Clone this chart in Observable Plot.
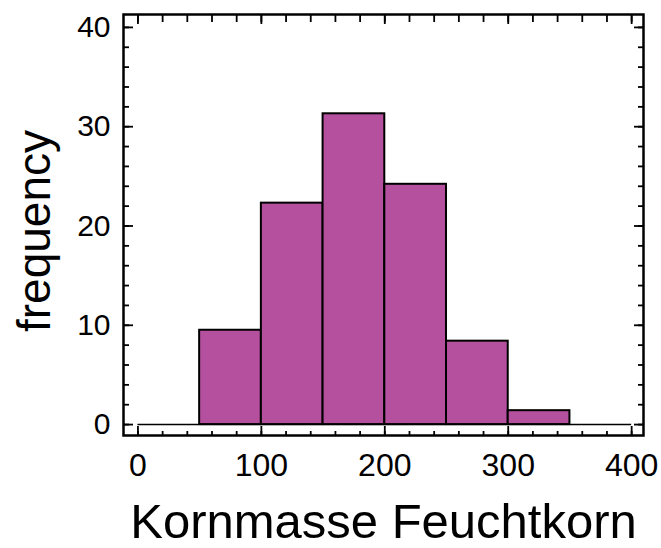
<!DOCTYPE html>
<html>
<head>
<meta charset="utf-8">
<script src="https://cdn.jsdelivr.net/npm/d3@7"></script>
<script src="https://cdn.jsdelivr.net/npm/@observablehq/plot@0.6"></script>
<style>
  html, body { margin: 0; padding: 0; background: #fff; }
  svg { font-family: "Liberation Sans", Arial, sans-serif; }
</style>
</head>
<body>
<div id="chart"></div>
<script>
const binStart = [50, 100, 150, 200, 250, 300];
const binEnd   = [100, 150, 200, 250, 300, 350];
const freq     = [9.5, 22.3, 31.3, 24.2, 8.4, 1.4];
const xMajor = [0, 100, 200, 300, 400];
const xMinor = d3.range(0, 401, 20);
const yMajor = [0, 10, 20, 30, 40];
const yMinor = d3.range(0, 41, 2);
const baseline = {from: 0, to: 400};
const xTitle = "Kornmasse Feuchtkorn";
const yTitle = "frequency";

const bins = binStart.map((s, i) => ({x1: s, x2: binEnd[i], y: freq[i]}));
const fill = "#b4509e";
const tickOpts = {tickFormat: () => "", strokeWidth: 1.8, label: null};

const plot = Plot.plot({
  width: 661,
  height: 548,
  marginLeft: 123,
  marginRight: 18,
  marginTop: 14,
  marginBottom: 113,
  style: {fontFamily: "'Liberation Sans', Arial, sans-serif", background: "#fff"},
  x: {domain: [-11.7, 409.6]},
  y: {domain: [-1.1, 41.3]},
  marks: [
    Plot.ruleY([0], {x1: baseline.from, x2: baseline.to, stroke: "#000", strokeWidth: 1.5}),
    Plot.rectY(bins, {x1: "x1", x2: "x2", y: "y", fill, stroke: "#000", strokeWidth: 2}),
    // inward ticks
    Plot.axisX(xMinor, {anchor: "bottom", tickSize: -4, ...tickOpts}),
    Plot.axisX(xMajor, {anchor: "bottom", tickSize: -9, ...tickOpts}),
    Plot.axisX(xMinor, {anchor: "top", tickSize: -7, ...tickOpts}),
    Plot.axisX(xMajor, {anchor: "top", tickSize: -9, ...tickOpts}),
    Plot.axisY(yMinor, {anchor: "left", tickSize: -6, ...tickOpts}),
    Plot.axisY(yMajor, {anchor: "left", tickSize: -10, ...tickOpts}),
    Plot.axisY(yMinor, {anchor: "right", tickSize: -6, ...tickOpts}),
    Plot.axisY(yMajor, {anchor: "right", tickSize: -10, ...tickOpts}),
    // labels
    Plot.axisX(xMajor, {anchor: "bottom", tickSize: 0, tickPadding: 18, fontSize: 32, label: null, fill: "#000"}),
    Plot.axisY(yMajor, {anchor: "left", tickSize: 0, tickPadding: 13, fontSize: 30, label: null, fill: "#000"}),
    Plot.frame({stroke: "#000", strokeWidth: 2.5}),
    Plot.text([xTitle], {frameAnchor: "bottom", dy: 87, lineAnchor: "middle", fontSize: 49, fill: "#000"}),
    Plot.text([yTitle], {frameAnchor: "left", dx: -88, dy: 6, rotate: -90, textAnchor: "middle", lineAnchor: "middle", fontSize: 46, fill: "#000"})
  ]
});
document.getElementById("chart").appendChild(plot);
</script>
</body>
</html>
